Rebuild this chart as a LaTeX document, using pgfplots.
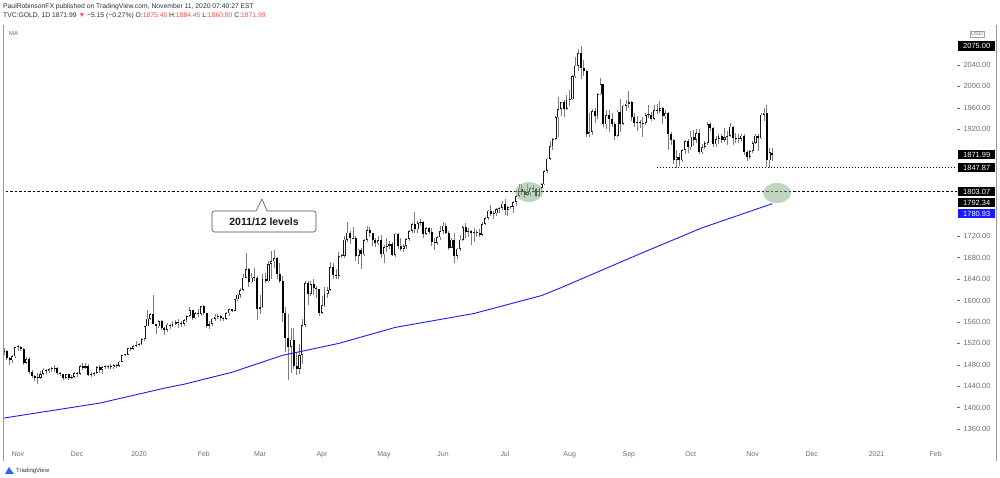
\documentclass[border=0pt]{standalone}
\usepackage{fontspec}
\setmainfont{Liberation Sans}
\usepackage{pgfplots}
\usepackage{pgfplotstable}
\pgfplotsset{compat=1.18}
\definecolor{tvred}{HTML}{EF5350}
\definecolor{mablue}{HTML}{1A1AFF}
\definecolor{sage}{HTML}{8DB38D}
\definecolor{hdr}{HTML}{2A2E39}
\definecolor{lbl}{HTML}{6A6D78}
\definecolor{wick}{HTML}{7D7D7D}
\definecolor{tvlogo}{HTML}{2962FF}

\pgfplotstableread{
x o h l c
-6 1492 1508 1490 1504
-5 1504 1512 1499 1505
-4 1505 1507 1488 1493
-3 1493 1494 1480 1488
-2 1488 1498 1484 1496
-1 1496 1514 1492 1513
0 1513 1517 1505 1514
1 1514 1515 1506 1510
2 1510 1511 1480 1484
3 1484 1494 1482 1491
4 1491 1495 1462 1467
5 1467 1470 1456 1459
6 1459 1461 1450 1456
7 1456 1464 1445 1455
8 1455 1468 1453 1463
9 1463 1474 1461 1471
10 1471 1472 1463 1468
11 1468 1474 1465 1472
12 1472 1476 1467 1472.5
13 1472.5 1479 1467 1474
14 1474 1476 1461 1464
15 1464 1467 1459 1462
16 1462 1463 1451 1456
17 1456 1463 1454 1462
18 1462 1462.5 1452 1455
19 1455 1460 1453 1458
20 1458 1466 1456 1464
21 1464 1466 1457 1463
22 1463 1479 1461 1477
23 1477 1484 1471 1474
24 1474 1483 1473 1477
25 1477 1481 1459 1461
26 1461 1466 1458 1462
27 1462 1467 1459 1465
28 1465 1477 1462 1475
29 1475 1479 1465 1470
30 1470 1478 1462 1476
31 1476 1479 1472 1476.5
32 1476.5 1480 1472 1477
33 1477 1481 1473 1475
34 1475 1481 1472 1479
35 1479 1482 1474 1478
36 1478 1487 1476 1486
37 1486 1499 1485 1498
38 1498 1500 1497 1499
39 1499 1512 1498 1511
40 1511 1514 1506 1510
41 1510 1517 1508 1515
42 1515 1524 1514 1517
43 1517 1520 1516 1518
44 1518 1530 1517 1528
45 1528 1553 1525 1552
46 1552 1582 1552 1566
47 1566 1576 1563 1574
48 1574 1611 1556 1556
49 1556 1557 1537 1552
50 1552 1563 1549 1562
51 1562 1563 1545 1548
52 1548 1551 1536 1545
53 1545 1558 1542 1555
54 1555 1557 1546 1552
55 1552 1562 1550 1557
56 1557 1563 1555 1560
57 1560 1565 1548 1558
58 1558 1561 1551 1557
59 1557 1566 1552 1563
60 1563 1573 1560 1571
61 1571 1588 1569 1582
62 1582 1583 1564 1567
63 1567 1579 1565 1577
64 1577 1584 1569 1575
65 1575 1590 1572 1589
66 1589 1592 1573 1577
67 1577 1577.5 1548 1553
68 1553 1562 1547 1556
69 1556 1567 1553 1566
70 1566 1574 1562 1570
71 1570 1575 1565 1572
72 1572 1573 1562 1567
73 1567 1570 1561 1566
74 1566 1578 1564 1576
75 1576 1585 1572 1584
76 1584 1585 1578 1581
77 1581 1603 1580 1602
78 1602 1612 1600 1611
79 1611 1623 1604 1620
80 1620 1649 1617 1643
81 1643 1689 1643 1659
82 1659 1660 1626 1634
83 1634 1651 1632 1643
84 1643 1660 1637 1642
85 1642 1645 1563 1585
86 1585 1611 1575 1587
87 1587 1649 1586 1641
88 1641 1652 1632 1636
89 1636 1673 1635 1668
90 1668 1692 1641 1673
91 1673 1695 1660 1679
92 1679 1681 1640 1650
93 1650 1670 1633 1636
94 1636 1646 1560 1577
95 1577 1587 1504 1530
96 1530 1575 1451 1514
97 1514 1549 1465 1527
98 1527 1548 1472 1477
99 1477 1502 1460 1472
100 1472 1518 1463 1498
101 1498 1565 1482 1554
102 1554 1637 1551 1632
103 1632 1637 1591 1612
104 1612 1637 1608 1630
105 1630 1641 1610 1623
106 1623 1628 1604 1621
107 1621 1622 1571 1577
108 1577 1608 1575 1591
109 1591 1626 1588 1613
110 1613 1626 1604 1620
111 1620 1672 1617 1663
112 1663 1671 1641 1648
113 1648 1659 1641 1646
114 1646 1690 1640 1683
115 1683 1686 1680 1684
116 1684 1720 1680 1714
117 1714 1747 1710 1727
118 1727 1730 1705 1716
119 1716 1738 1716 1717
120 1717 1720 1674 1683
121 1683 1696 1668 1695
122 1695 1699 1659 1686
123 1686 1715 1683 1713
124 1713 1739 1709 1731
125 1731 1737 1718 1726
126 1726 1727 1701 1713
127 1713 1717 1700 1707
128 1707 1720 1704 1713
129 1713 1722 1680 1686
130 1686 1703 1670 1700
131 1700 1716 1691 1702
132 1702 1712 1697 1705
133 1705 1709 1683 1685
134 1685 1726 1681 1725
135 1725 1726 1696 1702
136 1702 1716 1692 1697
137 1697 1706 1691 1702
138 1702 1716 1697 1715
139 1715 1731 1711 1730
140 1730 1745 1726 1743
141 1743 1765 1727 1733
142 1733 1748 1727 1745
143 1745 1753 1740 1747
144 1747 1748 1717 1725
145 1725 1737 1723 1735
146 1735 1737 1725 1728
147 1728 1735 1701 1709
148 1709 1717 1694 1708
149 1708 1721 1704 1718
150 1718 1740 1714 1730
151 1730 1746 1724 1740
152 1740 1745 1725 1727
153 1727 1729 1694 1699
154 1699 1716 1698 1714
155 1714 1727 1670 1684
156 1684 1699 1677 1697
157 1697 1722 1693 1714
158 1714 1739 1711 1737
159 1737 1744 1716 1728
160 1728 1736 1718 1730
161 1730 1731 1703 1726
162 1726 1735 1710 1726.5
163 1726.5 1732 1718 1727
164 1727 1734 1719 1723
165 1723 1746 1721 1743
166 1743 1756 1741 1754
167 1754 1769 1751 1768
168 1768 1779 1757 1762
169 1762 1768 1753 1763
170 1763 1772 1758 1771
171 1771 1774 1764 1773
172 1773 1785 1769 1781
173 1781 1789 1760 1770
174 1770 1776 1757 1775
175 1775 1777 1771 1775.5
176 1775.5 1786 1764 1784
177 1784 1797 1776 1795
178 1795 1818 1793 1809
179 1809 1818 1797 1803
180 1803 1809 1792 1798
181 1798 1818 1795 1802
182 1802 1812 1796 1810
183 1810 1815 1802 1809
184 1809 1810 1794 1796
185 1796 1812 1796 1811
186 1811 1820 1806 1817
187 1817 1843 1816 1842
188 1842 1866 1838 1865
189 1865 1898 1863 1888
190 1888 1903 1882 1902
191 1902 1944 1900 1942
192 1942 1981 1906 1958
193 1958 1971 1944 1970
194 1970 1975 1943 1958
195 1958 1984 1956 1975
196 1975 1993 1964 1976
197 1976 2021 1974 2019
198 2019 2055 2016 2039
199 2039 2069 2028 2062
200 2062 2075 2013 2035
201 2035 2049 2019 2028
202 2028 2030 1905 1911
203 1911 1950 1905 1915
204 1915 1958 1910 1954
205 1954 1959 1932 1944
206 1944 1988 1940 1985
207 1985 2015 1983 2004
208 2004 2005 1925 1929
209 1929 1955 1921 1946
210 1946 1955 1915 1940
211 1940 1950 1925 1929
212 1929 1933 1900 1907
213 1907 1955 1905 1953
214 1953 1977 1915 1930
215 1930 1965 1927 1964
216 1964 1974 1954 1968
217 1968 1992 1960 1970
218 1970 1973 1936 1943
219 1943 1951 1925 1931
220 1931 1945 1917 1934
221 1934 1937 1922 1931
222 1931 1943 1906 1932
223 1932 1951 1928 1946
224 1946 1965 1941 1946.5
225 1946.5 1952 1935 1940
226 1940 1965 1938 1956
227 1956 1967 1948 1954
228 1954 1973 1950 1959
229 1959 1962 1929 1944
230 1944 1955 1940 1950
231 1950 1953 1882 1912
232 1912 1915 1891 1900
233 1900 1902 1855 1863
234 1863 1882 1848 1868
235 1868 1876 1851 1862
236 1862 1883 1859 1881
237 1881 1899 1873 1898
238 1898 1901 1875 1886
239 1886 1917 1882 1906
240 1906 1918 1888 1900
241 1900 1920 1895 1913
242 1913 1921 1873 1877
243 1877 1893 1873 1887
244 1887 1898 1883 1894
245 1894 1933 1890 1930
246 1930 1933 1916 1922
247 1922 1925 1886 1892
248 1892 1907 1887 1902
249 1902 1911 1893 1908
250 1908 1912 1894 1900
251 1900 1922 1897 1905
252 1905 1917 1891 1907
253 1907 1932 1905 1925
254 1925 1926 1890 1904
255 1904 1913 1895 1902
256 1902 1912 1895 1902.5
257 1902.5 1912 1898 1908
258 1908 1911 1872 1877
259 1877 1881 1860 1868
260 1868 1882 1864 1879
261 1879 1898 1876 1894
262 1894 1911 1892 1908
263 1908 1912 1880 1903
264 1903 1951 1901 1947
265 1947 1960 1936 1951
266 1951 1966 1850 1862
267 1862 1884 1848 1877
268 1875.4 1884.45 1860.8 1871.99
}\gold

\pgfplotstableread{
x ma
-5 1380.5
29 1408.4
52 1436.3
59 1443.7
76 1466.0
94 1497.7
104 1508.8
114 1520.0
134 1549.8
162 1575.8
186 1609.3
193 1624.2
221 1687.4
243 1735.8
268 1780.93
}\mavals

\begin{document}
\begin{tikzpicture}[x=1bp,y=1bp]
\useasboundingbox (0,0) rectangle (1000,478);
\begin{axis}[
  at={(4bp,38bp)}, anchor=south west,
  scale only axis, width=953bp, height=415bp,
  xmin=-4.97, xmax=333.6, ymin=1339.5, ymax=2114.7,
  axis line style={draw=none},
  xtick={0,21,43,66,86,108,130,151,173,196,217,239,261,282,305,326},
  xticklabels={Nov,Dec,2020,Feb,Mar,Apr,May,Jun,Jul,Aug,Sep,Oct,Nov,Dec,2021,Feb},
  xtick style={draw=none},
  xticklabel style={font=\fontsize{7}{8}\selectfont, text=lbl, anchor=base, yshift=-14bp},
  ytick={1360,1400,1440,1480,1520,1560,1600,1640,1680,1720,1920,1960,2000,2040},
  ytick pos=right, yticklabel pos=right,
  ytick style={draw=lbl, line width=0.5bp},
  tick align=outside, major tick length=3bp,
  scaled y ticks=false,
  yticklabel style={font=\fontsize{7.5}{9}\selectfont, text=lbl, anchor=west,
    /pgf/number format/fixed, /pgf/number format/fixed zerofill,
    /pgf/number format/precision=2, /pgf/number format/1000 sep={},
    /pgf/number format/assume math mode=true},
]
% wicks
\addplot[draw=none, mark=none, forget plot,
  error bars/.cd, y dir=plus, y explicit, error mark=none,
  error bar style={draw=wick, line width=0.8bp}]
  table[x=x, y=l, y error plus expr={\thisrow{h}-\thisrow{l}}] {\gold};
% down bodies
\addplot[draw=none, mark=none, forget plot,
  restrict expr to domain={\thisrow{c}-\thisrow{o}}{-100000:-0.001},
  error bars/.cd, y dir=plus, y explicit, error mark=none,
  error bar style={draw=black, line width=2bp}]
  table[x=x, y=c, y error plus expr={max(\thisrow{o}-\thisrow{c},1.5)}] {\gold};
% up bodies (outline)
\addplot[draw=none, mark=none, forget plot,
  restrict expr to domain={\thisrow{c}-\thisrow{o}}{0:100000},
  error bars/.cd, y dir=plus, y explicit, error mark=none,
  error bar style={draw=black!90, line width=2.1bp}]
  table[x=x, y=o, y error plus expr={max(\thisrow{c}-\thisrow{o},1.5)}] {\gold};
% up bodies (hollow inside)
\addplot[draw=none, mark=none, forget plot,
  restrict expr to domain={\thisrow{c}-\thisrow{o}}{4:100000},
  error bars/.cd, y dir=plus, y explicit, error mark=none,
  error bar style={draw=white, line width=0.5bp}]
  table[x=x, y expr={\thisrow{o}+1.3}, y error plus expr={\thisrow{c}-\thisrow{o}-2.6}] {\gold};
% 200-day MA
\addplot[mablue, line width=0.9bp, mark=none] table[x=x, y=ma] {\mavals};
% horizontal levels
\addplot[black, line width=0.8bp, mark=none, dash pattern=on 2.5bp off 2bp] coordinates {(-6,1803.07) (334,1803.07)};
\addplot[black, line width=0.8bp, mark=none, dash pattern=on 1bp off 2bp] coordinates {(227,1847.87) (334,1847.87)};
\end{axis}

% highlight ellipses
\fill[sage, fill opacity=0.55] (529,286) ellipse [x radius=14, y radius=10];
\fill[sage, fill opacity=0.55] (777,285) ellipse [x radius=14, y radius=10];

% callout
\filldraw[fill=white, draw=black!70, line width=0.6bp, rounded corners=2.5bp]
  (212,246) -- (212,267) [sharp corners] -- (256,267) -- (262,279) -- (267,267) [rounded corners=2.5bp] -- (316,267) -- (316,246) -- cycle;
\node[font=\fontsize{10.5}{12}\selectfont\bfseries, text=black!90] at (264,256.5) {2011/12 levels};

% price labels on the scale
\tikzset{pbox/.style={fill=black, text=white, inner sep=0pt, minimum width=37bp, minimum height=9.5bp, anchor=west, font=\fontsize{7.5}{9}\selectfont}}
\node[pbox] at (958,432) {2075.00};
\node[pbox] at (958,323.5) {1871.99};
\node[pbox] at (958,310.5) {1847.87};
\node[pbox] at (958,286.5) {1803.07};
\node[pbox] at (958,275.5) {1792.34};
\node[pbox, fill=mablue] at (958,264.5) {1780.93};
\node[draw=black!35, line width=0.5bp, inner sep=1pt, font=\fontsize{5.5}{6}\selectfont, text=lbl] at (977,444) {USD};

% header
\node[anchor=base west, inner sep=0, font=\fontsize{6.8}{8}\selectfont, text=hdr] at (3,469)
  {PaulRobinsonFX published on TradingView.com, November 11, 2020 07:40:27 EST};
\node[anchor=base west, inner sep=0, font=\fontsize{6.8}{8}\selectfont, text=hdr] at (3,460)
  {TVC:GOLD, 1D 1871.99 \textcolor{tvred}{▼} −5.15 (−0.27\%) O:\textcolor{tvred}{1875.40} H:\textcolor{tvred}{1884.45} L:\textcolor{tvred}{1860.80} C:\textcolor{tvred}{1871.99}};
\node[anchor=base west, inner sep=0, font=\fontsize{6}{7}\selectfont, text=lbl] at (9,442) {MA};

% frame
\draw[black!40, line width=0.6bp] (3.5,453) -- (3.5,17);
\draw[black!40, line width=0.6bp] (996.5,453) -- (996.5,17);

% logo
\fill[tvlogo] (5,4) -- (9,11) -- (11,8) -- (14,4) -- cycle;
\node[anchor=base west, inner sep=0, font=\fontsize{6}{7}\selectfont, text=hdr] at (16,5) {TradingView};
\end{tikzpicture}
\end{document}
